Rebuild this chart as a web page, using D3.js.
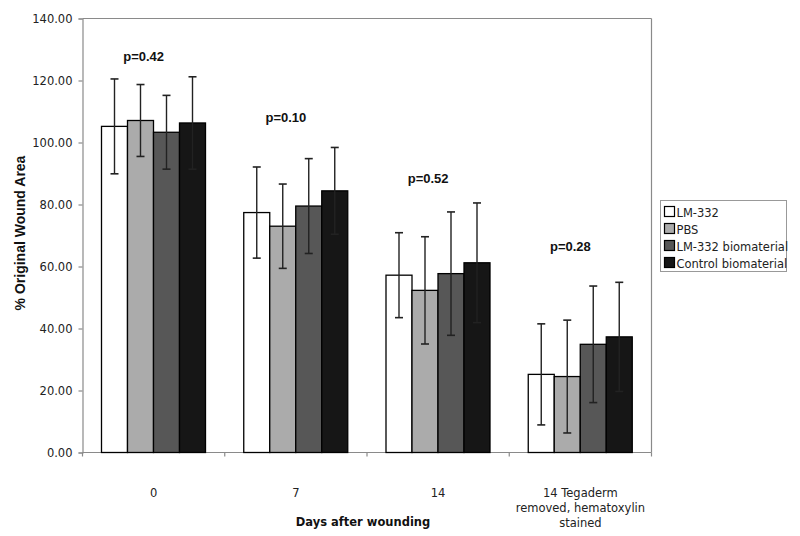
<!DOCTYPE html>
<html>
<head>
<meta charset="utf-8">
<script src="https://cdn.jsdelivr.net/npm/d3@7"></script>
<style>
html,body{margin:0;padding:0;background:#fff;}
svg{display:block;}
</style>
</head>
<body>
<svg id="chart" width="800" height="536"></svg>
<script>
const categories = ["0", "7", "14", "14 Tegaderm removed, hematoxylin stained"];
const categoryLines = [["0"], ["7"], ["14"], ["14 Tegaderm", "removed, hematoxylin", "stained"]];
const series = ["LM-332", "PBS", "LM-332 biomaterial", "Control biomaterial"];
const seriesColors = ["#ffffff", "#ababab", "#575757", "#161616"];
const valLM332 = [105.2, 77.4, 57.2, 25.2];
const valPBS = [107.1, 73.0, 52.3, 24.5];
const valLMBio = [103.3, 79.5, 57.7, 34.9];
const valControl = [106.3, 84.4, 61.2, 37.3];
const errLM332 = [15.3, 14.7, 13.7, 16.3];
const errPBS = [11.6, 13.6, 17.3, 18.2];
const errLMBio = [11.9, 15.3, 19.9, 18.8];
const errControl = [14.9, 14.0, 19.3, 17.6];
const pLabels = ["p=0.42", "p=0.10", "p=0.52", "p=0.28"];
const pLabelY = [126.2, 106.5, 87.0, 65.1];
const yTicks = [0, 20, 40, 60, 80, 100, 120, 140];

const values = [valLM332, valPBS, valLMBio, valControl];
const errors = [errLM332, errPBS, errLMBio, errControl];

const svg = d3.select("#chart");
const mLeft = 82.5, mRight = 651.5, mTop = 18.5, mBottom = 452.5;

const x0 = d3.scaleBand().domain(categories).range([mLeft, mRight]).padding(0);
const x1 = d3.scaleBand().domain(series).range([19, 123]).padding(0);
const y = d3.scaleLinear().domain([0, 140]).range([mBottom, mTop]);

const axisColor = "#8a8a8a";

// plot frame top/right
svg.append("line").attr("x1", mLeft).attr("x2", mRight).attr("y1", mTop).attr("y2", mTop)
  .attr("stroke", axisColor).attr("stroke-width", 1.2);
svg.append("line").attr("x1", mRight).attr("x2", mRight).attr("y1", mTop).attr("y2", mBottom)
  .attr("stroke", axisColor).attr("stroke-width", 1.2);

// y axis
const yAxis = svg.append("g").attr("transform", `translate(${mLeft},0)`)
  .call(d3.axisLeft(y).tickValues(yTicks).tickFormat(d3.format(".2f")).tickSize(4).tickPadding(6));
yAxis.selectAll("path,line").attr("stroke", axisColor).attr("stroke-width", 1.2);
yAxis.selectAll("text").attr("font-family", "DejaVu Sans, Verdana, sans-serif")
  .attr("font-size", "11.5px").attr("fill", "#222");

// x axis with ticks at band boundaries
const xAxisG = svg.append("g");
xAxisG.append("line").attr("x1", mLeft).attr("x2", mRight).attr("y1", mBottom).attr("y2", mBottom)
  .attr("stroke", axisColor).attr("stroke-width", 1.2);
const boundaries = categories.map(c => x0(c)).concat([x0(categories[categories.length-1]) + x0.bandwidth()]);
xAxisG.selectAll("line.tk").data(boundaries).join("line").attr("class", "tk")
  .attr("x1", d => d).attr("x2", d => d).attr("y1", mBottom).attr("y2", mBottom + 4)
  .attr("stroke", axisColor).attr("stroke-width", 1.2);

// category labels
categories.forEach((c, i) => {
  const t = svg.append("text").attr("x", x0(c) + x0.bandwidth() / 2).attr("y", 497)
    .attr("text-anchor", "middle").attr("font-family", "DejaVu Sans, Verdana, sans-serif")
    .attr("font-size", "11.5px").attr("fill", "#222");
  categoryLines[i].forEach((ln, j) => {
    t.append("tspan").attr("x", x0(c) + x0.bandwidth() / 2).attr("dy", j === 0 ? 0 : 15).text(ln);
  });
});

// bars
const groups = svg.selectAll("g.cat").data(categories).join("g").attr("class", "cat")
  .attr("transform", d => `translate(${x0(d)},0)`);

series.forEach((s, si) => {
  groups.append("rect")
    .attr("x", x1(s)).attr("width", x1.bandwidth())
    .attr("y", (d, ci) => y(values[si][ci]))
    .attr("height", (d, ci) => y(0) - y(values[si][ci]))
    .attr("fill", seriesColors[si]).attr("stroke", "#000").attr("stroke-width", 1.3);
});

// error bars
series.forEach((s, si) => {
  groups.each(function(d, ci) {
    const g = d3.select(this);
    const cx = x1(s) + x1.bandwidth() / 2;
    const v = values[si][ci], e = errors[si][ci];
    const col = "#222";
    g.append("line").attr("x1", cx).attr("x2", cx).attr("y1", y(v + e)).attr("y2", y(v - e))
      .attr("stroke", col).attr("stroke-width", 1.4);
    g.append("line").attr("x1", cx - 4).attr("x2", cx + 4).attr("y1", y(v + e)).attr("y2", y(v + e))
      .attr("stroke", col).attr("stroke-width", 1.6);
    g.append("line").attr("x1", cx - 4).attr("x2", cx + 4).attr("y1", y(v - e)).attr("y2", y(v - e))
      .attr("stroke", col).attr("stroke-width", 1.6);
  });
});

// p labels
categories.forEach((c, i) => {
  svg.append("text").attr("x", x0(c) + x0.bandwidth() / 2 - 10).attr("y", y(pLabelY[i]))
    .attr("text-anchor", "middle").attr("font-family", "Liberation Sans, Arial, sans-serif")
    .attr("font-weight", "bold").attr("font-size", "13px").attr("fill", "#111").text(pLabels[i]);
});

// axis titles
svg.append("text").attr("transform", `translate(25,233) rotate(-90)`)
  .attr("text-anchor", "middle").attr("font-family", "Liberation Sans, Arial, sans-serif")
  .attr("font-weight", "bold").attr("font-size", "14px").attr("fill", "#111")
  .text("% Original Wound Area");
svg.append("text").attr("x", 363).attr("y", 525.5)
  .attr("text-anchor", "middle").attr("font-family", "DejaVu Sans, Verdana, sans-serif")
  .attr("font-weight", "bold").attr("font-size", "11.5px").attr("fill", "#111")
  .text("Days after wounding");

// legend
const lg = svg.append("g").attr("transform", "translate(660.5,200.5)");
lg.append("rect").attr("width", 126).attr("height", 71).attr("fill", "#fff")
  .attr("stroke", "#999").attr("stroke-width", 1);
series.forEach((s, i) => {
  const yy = 6 + i * 17;
  lg.append("rect").attr("x", 4).attr("y", yy).attr("width", 10).attr("height", 10)
    .attr("fill", seriesColors[i]).attr("stroke", "#000").attr("stroke-width", 1.2);
  lg.append("text").attr("x", 16).attr("y", yy + 10)
    .attr("font-family", "DejaVu Sans, Verdana, sans-serif").attr("font-size", "11.5px")
    .attr("fill", "#222").text(s);
});
</script>
</body>
</html>
